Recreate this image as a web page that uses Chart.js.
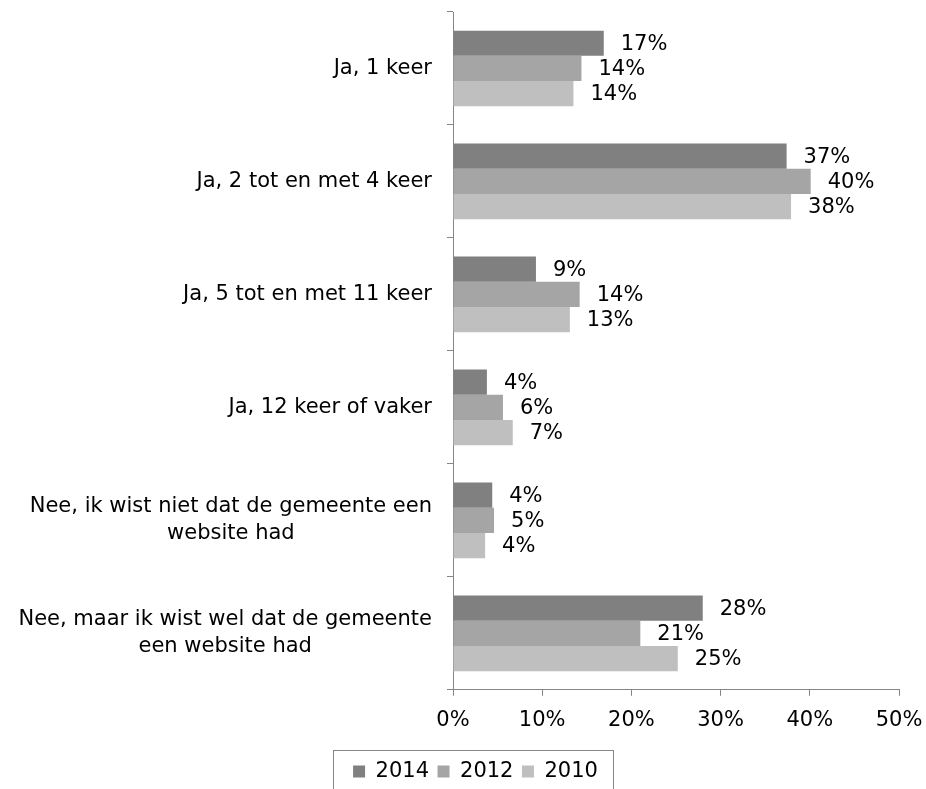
<!DOCTYPE html>
<html>
<head>
<meta charset="utf-8">
<script src="https://cdn.jsdelivr.net/npm/chart.js@4.4.1/dist/chart.umd.min.js"></script>
<style>
  html, body { margin: 0; padding: 0; background: #fff; }
  #wrap { width: 926px; height: 789px; }
</style>
</head>
<body>
<div id="wrap"><canvas id="myChart"></canvas></div>
<script>
// categories (each entry = lines of the label)
const categories = [
  ["Ja, 1 keer"],
  ["Ja, 2 tot en met 4 keer"],
  ["Ja, 5 tot en met 11 keer"],
  ["Ja, 12 keer of vaker"],
  ["Nee, ik wist niet dat de gemeente een", "website had"],
  ["Nee, maar ik wist wel dat de gemeente", "een website had"]
];
const years = ["2014", "2012", "2010"];
const values2014 = [16.9, 37.4, 9.3, 3.8, 4.4, 28.0];
const values2012 = [14.4, 40.1, 14.2, 5.6, 4.6, 21.0];
const values2010 = [13.5, 37.9, 13.1, 6.7, 3.6, 25.2];
const colors = ["#808080", "#a5a5a5", "#bfbfbf"];
const xTicks = [0, 10, 20, 30, 40, 50];

const FONT = "DejaVu Sans, Verdana, sans-serif";
const axisColor = "#868686";

// value labels next to bars
const barLabels = {
  id: "barLabels",
  afterDatasetsDraw(chart) {
    const ctx = chart.ctx;
    ctx.save();
    ctx.font = "21px " + FONT;
    ctx.fillStyle = "#000";
    ctx.textAlign = "left";
    ctx.textBaseline = "middle";
    chart.data.datasets.forEach((ds, i) => {
      chart.getDatasetMeta(i).data.forEach((bar, j) => {
        ctx.fillText(Math.round(ds.data[j]) + "%", bar.x + 17, bar.y + 1);
      });
    });
    ctx.restore();
  }
};

// category labels: block right aligned, lines centered in the block
const catLabels = {
  id: "catLabels",
  afterDraw(chart) {
    const ctx = chart.ctx;
    const y = chart.scales.y;
    ctx.save();
    ctx.font = "21px " + FONT;
    ctx.fillStyle = "#000";
    ctx.textAlign = "center";
    ctx.textBaseline = "middle";
    const right = chart.chartArea.left - 21;
    const lh = 26.7;
    categories.forEach((lines, i) => {
      const cy = y.getPixelForValue(i);
      const w = Math.max(...lines.map((l) => ctx.measureText(l).width));
      const cx = right - w / 2;
      const top = cy - (lines.length - 1) * lh / 2;
      lines.forEach((l, k) => ctx.fillText(l, cx, top + k * lh));
    });
    ctx.restore();
  }
};

// box round the legend
const legendBox = {
  id: "legendBox",
  afterDraw(chart) {
    const boxes = chart.legend.legendHitBoxes;
    if (!boxes || !boxes.length) return;
    const ctx = chart.ctx;
    const left = Math.min(...boxes.map((b) => b.left)) - 20;
    const right = Math.max(...boxes.map((b) => b.left + b.width)) + 15;
    const top = chart.legend.top - 3;
    ctx.save();
    ctx.strokeStyle = axisColor;
    ctx.lineWidth = 1;
    ctx.strokeRect(Math.round(left) + 0.5, Math.round(top) + 0.5, Math.round(right - left), 60);
    ctx.restore();
  }
};

const ctx = document.getElementById("myChart").getContext("2d");
const myChart = new Chart(ctx, {
  type: "bar",
  data: {
    labels: categories,
    datasets: [
      { label: years[0], data: values2014, backgroundColor: colors[0] },
      { label: years[1], data: values2012, backgroundColor: colors[1] },
      { label: years[2], data: values2010, backgroundColor: colors[2] }
    ]
  },
  options: {
    indexAxis: "y",
    responsive: true,
    maintainAspectRatio: false,
    animation: false,
    layout: { padding: { top: 12, right: 27, left: 52, bottom: -3 } },
    datasets: { bar: { categoryPercentage: 0.67, barPercentage: 1.0 } },
    scales: {
      x: {
        min: 0,
        max: 50,
        afterBuildTicks: (s) => { s.ticks = xTicks.map((v) => ({ value: v })); },
        afterFit: (s) => { s.paddingLeft = 0; s.paddingRight = 0; },
        ticks: {
          callback: (v) => v + "%",
          font: { family: FONT, size: 21 },
          color: "#000",
          padding: 12.5,
          maxRotation: 0
        },
        grid: { drawOnChartArea: false, drawTicks: true, tickLength: 6, color: axisColor },
        border: { color: axisColor },
        title: { display: true, text: "", font: { size: 5 }, padding: { top: 0.5, bottom: 0 } }
      },
      y: {
        ticks: { display: false },
        grid: { drawOnChartArea: false, drawTicks: true, tickLength: 6, color: axisColor, offset: true },
        border: { color: axisColor },
        afterFit: (s) => { s.width = 401; }
      }
    },
    plugins: {
      legend: {
        position: "bottom",
        labels: {
          boxWidth: 12,
          boxHeight: 12,
          padding: 8.5,
          color: "#000",
          font: { family: FONT, size: 21 }
        }
      },
      tooltip: { enabled: false }
    }
  },
  plugins: [barLabels, catLabels, legendBox]
});
</script>
</body>
</html>
